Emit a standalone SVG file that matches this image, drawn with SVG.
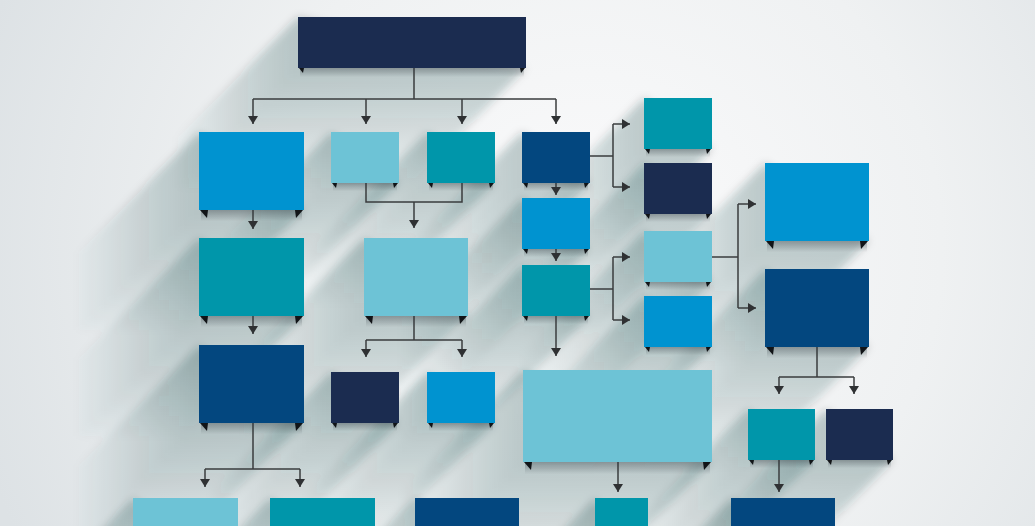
<svg xmlns="http://www.w3.org/2000/svg" width="1035" height="526" viewBox="0 0 1035 526">
<defs>
  <radialGradient id="bg" cx="590" cy="250" r="640" gradientUnits="userSpaceOnUse">
    <stop offset="0" stop-color="#fbfbfc"/>
    <stop offset="0.55" stop-color="#eff1f2"/>
    <stop offset="1" stop-color="#dde2e5"/>
  </radialGradient>
  <linearGradient id="under" x1="0" y1="0" x2="0" y2="1">
    <stop offset="0" stop-color="#2a333a" stop-opacity="0.35"/>
    <stop offset="1" stop-color="#2a333a" stop-opacity="0"/>
  </linearGradient>
  <filter id="soft" filterUnits="userSpaceOnUse" x="-50" y="-50" width="1135" height="626">
    <feGaussianBlur stdDeviation="4"/>
  </filter>
  <marker id="arr" viewBox="0 0 8 10" markerWidth="8" markerHeight="10" refX="8" refY="5" orient="auto" markerUnits="userSpaceOnUse">
    <path d="M0,0 L8,5 L0,10 z" fill="#2f3133"/>
  </marker>
  <g id="sa">
    <polygon points="0,0 -10,10 -10,61 218,61 228,51"/>
    <polygon points="0,0 -20,20 -20,71 208,71 228,51"/>
    <polygon points="0,0 -30,30 -30,81 198,81 228,51"/>
    <polygon points="0,0 -40,40 -40,91 188,91 228,51"/>
    <polygon points="0,0 -50,50 -50,101 178,101 228,51"/>
    <polygon points="0,0 -60,60 -60,111 168,111 228,51"/>
    <polygon points="0,0 -70,70 -70,121 158,121 228,51"/>
    <polygon points="0,0 -80,80 -80,131 148,131 228,51"/>
    <polygon points="0,0 -90,90 -90,141 138,141 228,51"/>
    <polygon points="0,0 -100,100 -100,151 128,151 228,51"/>
    <polygon points="0,0 -110,110 -110,161 118,161 228,51"/>
    <polygon points="0,0 -120,120 -120,171 108,171 228,51"/>
  </g>
  <g id="sb">
    <polygon points="0,0 -10,10 -10,88 95,88 105,78"/>
    <polygon points="0,0 -20,20 -20,98 85,98 105,78"/>
    <polygon points="0,0 -30,30 -30,108 75,108 105,78"/>
    <polygon points="0,0 -40,40 -40,118 65,118 105,78"/>
    <polygon points="0,0 -50,50 -50,128 55,128 105,78"/>
    <polygon points="0,0 -60,60 -60,138 45,138 105,78"/>
    <polygon points="0,0 -70,70 -70,148 35,148 105,78"/>
    <polygon points="0,0 -80,80 -80,158 25,158 105,78"/>
    <polygon points="0,0 -90,90 -90,168 15,168 105,78"/>
    <polygon points="0,0 -100,100 -100,178 5,178 105,78"/>
    <polygon points="0,0 -110,110 -110,188 -5,188 105,78"/>
    <polygon points="0,0 -120,120 -120,198 -15,198 105,78"/>
  </g>
  <g id="sc">
    <polygon points="0,0 -10,10 -10,88 94,88 104,78"/>
    <polygon points="0,0 -20,20 -20,98 84,98 104,78"/>
    <polygon points="0,0 -30,30 -30,108 74,108 104,78"/>
    <polygon points="0,0 -40,40 -40,118 64,118 104,78"/>
    <polygon points="0,0 -50,50 -50,128 54,128 104,78"/>
    <polygon points="0,0 -60,60 -60,138 44,138 104,78"/>
    <polygon points="0,0 -70,70 -70,148 34,148 104,78"/>
    <polygon points="0,0 -80,80 -80,158 24,158 104,78"/>
    <polygon points="0,0 -90,90 -90,168 14,168 104,78"/>
    <polygon points="0,0 -100,100 -100,178 4,178 104,78"/>
    <polygon points="0,0 -110,110 -110,188 -6,188 104,78"/>
    <polygon points="0,0 -120,120 -120,198 -16,198 104,78"/>
  </g>
  <g id="sd">
    <polygon points="0,0 -10,10 -10,61 58,61 68,51"/>
    <polygon points="0,0 -20,20 -20,71 48,71 68,51"/>
    <polygon points="0,0 -30,30 -30,81 38,81 68,51"/>
    <polygon points="0,0 -40,40 -40,91 28,91 68,51"/>
    <polygon points="0,0 -50,50 -50,101 18,101 68,51"/>
    <polygon points="0,0 -60,60 -60,111 8,111 68,51"/>
    <polygon points="0,0 -70,70 -70,121 -2,121 68,51"/>
    <polygon points="0,0 -80,80 -80,131 -12,131 68,51"/>
    <polygon points="0,0 -90,90 -90,141 -22,141 68,51"/>
    <polygon points="0,0 -100,100 -100,151 -32,151 68,51"/>
    <polygon points="0,0 -110,110 -110,161 -42,161 68,51"/>
    <polygon points="0,0 -120,120 -120,171 -52,171 68,51"/>
  </g>
  <g id="se">
    <polygon points="0,0 -10,10 -10,61 57,61 67,51"/>
    <polygon points="0,0 -20,20 -20,71 47,71 67,51"/>
    <polygon points="0,0 -30,30 -30,81 37,81 67,51"/>
    <polygon points="0,0 -40,40 -40,91 27,91 67,51"/>
    <polygon points="0,0 -50,50 -50,101 17,101 67,51"/>
    <polygon points="0,0 -60,60 -60,111 7,111 67,51"/>
    <polygon points="0,0 -70,70 -70,121 -3,121 67,51"/>
    <polygon points="0,0 -80,80 -80,131 -13,131 67,51"/>
    <polygon points="0,0 -90,90 -90,141 -23,141 67,51"/>
    <polygon points="0,0 -100,100 -100,151 -33,151 67,51"/>
    <polygon points="0,0 -110,110 -110,161 -43,161 67,51"/>
    <polygon points="0,0 -120,120 -120,171 -53,171 67,51"/>
  </g>
  <g id="sf">
    <polygon points="0,0 -10,10 -10,102 179,102 189,92"/>
    <polygon points="0,0 -20,20 -20,112 169,112 189,92"/>
    <polygon points="0,0 -30,30 -30,122 159,122 189,92"/>
    <polygon points="0,0 -40,40 -40,132 149,132 189,92"/>
    <polygon points="0,0 -50,50 -50,142 139,142 189,92"/>
    <polygon points="0,0 -60,60 -60,152 129,152 189,92"/>
    <polygon points="0,0 -70,70 -70,162 119,162 189,92"/>
    <polygon points="0,0 -80,80 -80,172 109,172 189,92"/>
    <polygon points="0,0 -90,90 -90,182 99,182 189,92"/>
    <polygon points="0,0 -100,100 -100,192 89,192 189,92"/>
    <polygon points="0,0 -110,110 -110,202 79,202 189,92"/>
    <polygon points="0,0 -120,120 -120,212 69,212 189,92"/>
  </g>
  <g id="sg">
    <polygon points="0,0 -10,10 -10,88 43,88 53,78"/>
    <polygon points="0,0 -20,20 -20,98 33,98 53,78"/>
    <polygon points="0,0 -30,30 -30,108 23,108 53,78"/>
    <polygon points="0,0 -40,40 -40,118 13,118 53,78"/>
    <polygon points="0,0 -50,50 -50,128 3,128 53,78"/>
    <polygon points="0,0 -60,60 -60,138 -7,138 53,78"/>
    <polygon points="0,0 -70,70 -70,148 -17,148 53,78"/>
    <polygon points="0,0 -80,80 -80,158 -27,158 53,78"/>
    <polygon points="0,0 -90,90 -90,168 -37,168 53,78"/>
    <polygon points="0,0 -100,100 -100,178 -47,178 53,78"/>
    <polygon points="0,0 -110,110 -110,188 -57,188 53,78"/>
    <polygon points="0,0 -120,120 -120,198 -67,198 53,78"/>
  </g>
</defs>
<style>
  #shadows use { fill: #3a4650; fill-opacity: 0.024; }
  .ud { fill: url(#under); }
  .fold { fill: #111417; }
  .navy { fill: #1b2c50; }
  .nblue { fill: #03477f; }
  .blue { fill: #0093d0; }
  .teal { fill: #0096aa; }
  .light { fill: #6dc3d6; }
  .ln { fill: none; stroke: #3a3c3e; stroke-width: 1.5; }
  .ar { fill: none; stroke: #3a3c3e; stroke-width: 1.5; marker-end: url(#arr); }
</style>
<rect x="0" y="0" width="1035" height="526" fill="url(#bg)"/>

<g id="shadows" filter="url(#soft)">
  <use href="#sa" x="298" y="17"/>
  <use href="#sb" x="199" y="132"/>
  <use href="#sd" x="331" y="132"/>
  <use href="#sd" x="427" y="132"/>
  <use href="#sd" x="522" y="132"/>
  <use href="#sd" x="644" y="98"/>
  <use href="#sd" x="644" y="163"/>
  <use href="#sd" x="522" y="198"/>
  <use href="#sd" x="522" y="265"/>
  <use href="#sd" x="644" y="231"/>
  <use href="#sd" x="644" y="296"/>
  <use href="#sc" x="765" y="163"/>
  <use href="#sc" x="765" y="269"/>
  <use href="#sb" x="199" y="238"/>
  <use href="#sc" x="364" y="238"/>
  <use href="#sb" x="199" y="345"/>
  <use href="#sd" x="331" y="372"/>
  <use href="#sd" x="427" y="372"/>
  <use href="#sf" x="523" y="370"/>
  <use href="#se" x="748" y="409"/>
  <use href="#se" x="826" y="409"/>
  <use href="#sb" x="133" y="498"/>
  <use href="#sb" x="270" y="498"/>
  <use href="#sc" x="415" y="498"/>
  <use href="#sg" x="595" y="498"/>
  <use href="#sc" x="731" y="498"/>
</g>

<g id="connectors">
  <path class="ln" d="M414,68 V99 M253,99 H556"/>
  <path class="ar" d="M253,99 V124"/>
  <path class="ar" d="M366,99 V124"/>
  <path class="ar" d="M462,99 V124"/>
  <path class="ar" d="M556,99 V124"/>
  <path class="ar" d="M253,210 V229"/>
  <path class="ln" d="M366,183 V202 H462 V183"/>
  <path class="ar" d="M414,202 V228"/>
  <path class="ar" d="M253,316 V334"/>
  <path class="ln" d="M414,316 V340 M366,340 H462"/>
  <path class="ar" d="M366,340 V357"/>
  <path class="ar" d="M462,340 V357"/>
  <path class="ar" d="M556,183 V195"/>
  <path class="ar" d="M556,249 V261"/>
  <path class="ar" d="M556,316 V356"/>
  <path class="ln" d="M590,156 H613 M613,124 V187"/>
  <path class="ar" d="M613,124 H630"/>
  <path class="ar" d="M613,187 H630"/>
  <path class="ln" d="M590,289 H613 M613,257 V320"/>
  <path class="ar" d="M613,257 H630"/>
  <path class="ar" d="M613,320 H630"/>
  <path class="ln" d="M712,257 H738 M738,204 V308"/>
  <path class="ar" d="M738,204 H756"/>
  <path class="ar" d="M738,308 H756"/>
  <path class="ln" d="M817,347 V377 M779,377 H854"/>
  <path class="ar" d="M779,377 V394"/>
  <path class="ar" d="M854,377 V394"/>
  <path class="ln" d="M253,423 V469 M205,469 H300"/>
  <path class="ar" d="M205,469 V487"/>
  <path class="ar" d="M300,469 V487"/>
  <path class="ar" d="M618,462 V492"/>
  <path class="ar" d="M779,460 V492"/>
</g>

<g id="n-top">
  <rect class="ud" x="300" y="68" width="224" height="9"/>
  <rect class="navy" x="298" y="17" width="228" height="51"/>
  <polygon class="fold" points="299,68 304,68 303,73"/>
  <polygon class="fold" points="520,68 525,68 521,73"/>
</g>
<g id="n-a">
  <rect class="ud" x="201" y="210" width="101" height="11"/>
  <rect class="blue" x="199" y="132" width="105" height="78"/>
  <polygon class="fold" points="200,210 208,210 207,218"/>
  <polygon class="fold" points="295,210 303,210 296,218"/>
</g>
<g id="n-b">
  <rect class="ud" x="333" y="183" width="64" height="8"/>
  <rect class="light" x="331" y="132" width="68" height="51"/>
  <polygon class="fold" points="332,183 337,183 336,188"/>
  <polygon class="fold" points="393,183 398,183 394,188"/>
</g>
<g id="n-c">
  <rect class="ud" x="429" y="183" width="64" height="8"/>
  <rect class="teal" x="427" y="132" width="68" height="51"/>
  <polygon class="fold" points="428,183 433,183 432,188"/>
  <polygon class="fold" points="489,183 494,183 490,188"/>
</g>
<g id="n-d">
  <rect class="ud" x="524" y="183" width="64" height="8"/>
  <rect class="nblue" x="522" y="132" width="68" height="51"/>
  <polygon class="fold" points="523,183 528,183 527,188"/>
  <polygon class="fold" points="584,183 589,183 585,188"/>
</g>
<g id="n-e1">
  <rect class="ud" x="646" y="149" width="64" height="8"/>
  <rect class="teal" x="644" y="98" width="68" height="51"/>
  <polygon class="fold" points="645,149 650,149 649,154"/>
  <polygon class="fold" points="706,149 711,149 707,154"/>
</g>
<g id="n-e2">
  <rect class="ud" x="646" y="214" width="64" height="8"/>
  <rect class="navy" x="644" y="163" width="68" height="51"/>
  <polygon class="fold" points="645,214 650,214 649,219"/>
  <polygon class="fold" points="706,214 711,214 707,219"/>
</g>
<g id="n-f">
  <rect class="ud" x="524" y="249" width="64" height="8"/>
  <rect class="blue" x="522" y="198" width="68" height="51"/>
  <polygon class="fold" points="523,249 528,249 527,254"/>
  <polygon class="fold" points="584,249 589,249 585,254"/>
</g>
<g id="n-g">
  <rect class="ud" x="524" y="316" width="64" height="8"/>
  <rect class="teal" x="522" y="265" width="68" height="51"/>
  <polygon class="fold" points="523,316 528,316 527,321"/>
  <polygon class="fold" points="584,316 589,316 585,321"/>
</g>
<g id="n-h1">
  <rect class="ud" x="646" y="282" width="64" height="8"/>
  <rect class="light" x="644" y="231" width="68" height="51"/>
  <polygon class="fold" points="645,282 650,282 649,287"/>
  <polygon class="fold" points="706,282 711,282 707,287"/>
</g>
<g id="n-h2">
  <rect class="ud" x="646" y="347" width="64" height="8"/>
  <rect class="blue" x="644" y="296" width="68" height="51"/>
  <polygon class="fold" points="645,347 650,347 649,352"/>
  <polygon class="fold" points="706,347 711,347 707,352"/>
</g>
<g id="n-i1">
  <rect class="ud" x="767" y="241" width="100" height="11"/>
  <rect class="blue" x="765" y="163" width="104" height="78"/>
  <polygon class="fold" points="766,241 774,241 773,249"/>
  <polygon class="fold" points="860,241 868,241 861,249"/>
</g>
<g id="n-i2">
  <rect class="ud" x="767" y="347" width="100" height="11"/>
  <rect class="nblue" x="765" y="269" width="104" height="78"/>
  <polygon class="fold" points="766,347 774,347 773,355"/>
  <polygon class="fold" points="860,347 868,347 861,355"/>
</g>
<g id="n-k">
  <rect class="ud" x="201" y="316" width="101" height="11"/>
  <rect class="teal" x="199" y="238" width="105" height="78"/>
  <polygon class="fold" points="200,316 208,316 207,324"/>
  <polygon class="fold" points="295,316 303,316 296,324"/>
</g>
<g id="n-l">
  <rect class="ud" x="366" y="316" width="100" height="11"/>
  <rect class="light" x="364" y="238" width="104" height="78"/>
  <polygon class="fold" points="365,316 373,316 372,324"/>
  <polygon class="fold" points="459,316 467,316 460,324"/>
</g>
<g id="n-n">
  <rect class="ud" x="201" y="423" width="101" height="11"/>
  <rect class="nblue" x="199" y="345" width="105" height="78"/>
  <polygon class="fold" points="200,423 208,423 207,431"/>
  <polygon class="fold" points="295,423 303,423 296,431"/>
</g>
<g id="n-m1">
  <rect class="ud" x="333" y="423" width="64" height="8"/>
  <rect class="navy" x="331" y="372" width="68" height="51"/>
  <polygon class="fold" points="332,423 337,423 336,428"/>
  <polygon class="fold" points="393,423 398,423 394,428"/>
</g>
<g id="n-m2">
  <rect class="ud" x="429" y="423" width="64" height="8"/>
  <rect class="blue" x="427" y="372" width="68" height="51"/>
  <polygon class="fold" points="428,423 433,423 432,428"/>
  <polygon class="fold" points="489,423 494,423 490,428"/>
</g>
<g id="n-p">
  <rect class="ud" x="525" y="462" width="185" height="12"/>
  <rect class="light" x="523" y="370" width="189" height="92"/>
  <polygon class="fold" points="524,462 532,462 531,470"/>
  <polygon class="fold" points="703,462 711,462 704,470"/>
</g>
<g id="n-j1">
  <rect class="ud" x="750" y="460" width="63" height="8"/>
  <rect class="teal" x="748" y="409" width="67" height="51"/>
  <polygon class="fold" points="749,460 754,460 753,465"/>
  <polygon class="fold" points="809,460 814,460 810,465"/>
</g>
<g id="n-j2">
  <rect class="ud" x="828" y="460" width="63" height="8"/>
  <rect class="navy" x="826" y="409" width="67" height="51"/>
  <polygon class="fold" points="827,460 832,460 831,465"/>
  <polygon class="fold" points="887,460 892,460 888,465"/>
</g>
<g id="n-o1"><rect class="light" x="133" y="498" width="105" height="78"/></g>
<g id="n-o2"><rect class="teal" x="270" y="498" width="105" height="78"/></g>
<g id="n-o3"><rect class="nblue" x="415" y="498" width="104" height="78"/></g>
<g id="n-o4"><rect class="teal" x="595" y="498" width="53" height="78"/></g>
<g id="n-o5"><rect class="nblue" x="731" y="498" width="104" height="78"/></g>
</svg>
